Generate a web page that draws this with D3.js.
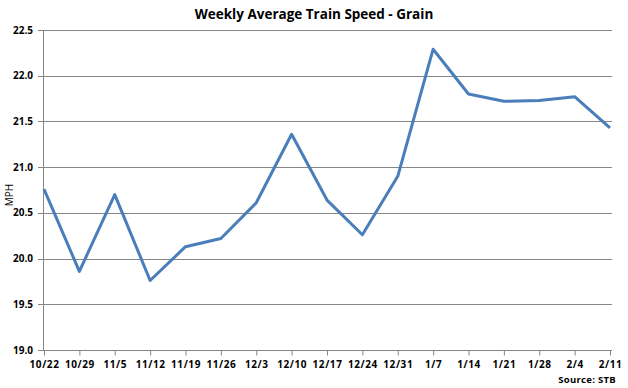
<!DOCTYPE html>
<html>
<head>
<meta charset="utf-8">
<script src="https://cdn.jsdelivr.net/npm/d3@7"></script>
<style>
  body { margin: 0; background: #fff; }
  svg { display: block; font-family: "Open Sans", "Liberation Sans", sans-serif; }
</style>
</head>
<body>
<div id="chart"></div>
<script>
// weekly dates on the x axis
var weeks = ["10/22","10/29","11/5","11/12","11/19","11/26","12/3","12/10","12/17","12/24","12/31","1/7","1/14","1/21","1/28","2/4","2/11"];
// average speed, miles per hour
var speeds = [20.76, 19.86, 20.70, 19.76, 20.13, 20.22, 20.61, 21.36, 20.64, 20.26, 20.90, 22.29, 21.80, 21.72, 21.73, 21.77, 21.43];
var yTicks = [19.0, 19.5, 20.0, 20.5, 21.0, 21.5, 22.0, 22.5];

var width = 628, height = 388;
var plotLeft = 43, plotRight = 611, plotTop = 30, plotBottom = 350;

var svg = d3.select("#chart").append("svg")
  .attr("width", width)
  .attr("height", height);

var x = d3.scalePoint().domain(weeks).range([plotLeft + 1, plotRight - 1]);
var y = d3.scaleLinear().domain([19, 22.5]).range([plotBottom, plotTop]);

// gridlines
svg.append("g")
  .selectAll("line")
  .data(yTicks)
  .enter().append("line")
    .attr("x1", plotLeft - 5)
    .attr("x2", plotRight + 1)
    .attr("y1", function(d) { return Math.round(y(d)) + 0.5; })
    .attr("y2", function(d) { return Math.round(y(d)) + 0.5; })
    .style("stroke", "#868686")
    .style("stroke-width", 1);

// y labels
svg.append("g")
  .selectAll("text")
  .data(yTicks)
  .enter().append("text")
    .attr("x", 33)
    .attr("y", function(d) { return y(d) + 3.5; })
    .attr("text-anchor", "end")
    .style("font-size", "10px")
    .style("font-weight", "bold")
    .text(function(d) { return d.toFixed(1); });

// y axis line
svg.append("line")
  .attr("x1", plotLeft + 0.5).attr("x2", plotLeft + 0.5)
  .attr("y1", plotTop).attr("y2", plotBottom)
  .style("stroke", "#868686");

// x axis ticks
var xAxis = d3.axisBottom(x).tickSize(5).tickPadding(5);
var gx = svg.append("g")
  .attr("transform", "translate(0," + (Math.round(plotBottom) + 0.5) + ")")
  .call(xAxis);
gx.select(".domain").remove();
gx.selectAll("line").style("stroke", "#868686");
gx.selectAll("text")
  .style("font-size", "10px")
  .style("font-weight", "bold")
  .style("letter-spacing", "0.6px")
  .style("fill", "#000")
  .style("font-family", "'Open Sans', sans-serif");

// the line
var line = d3.line()
  .x(function(d, i) { return x(weeks[i]); })
  .y(function(d) { return y(d); });

svg.append("path")
  .datum(speeds)
  .attr("d", line)
  .style("fill", "none")
  .style("stroke", "#4a7ebb")
  .style("stroke-width", 3)
  .style("stroke-linejoin", "round");

// title
svg.append("text")
  .attr("x", 314)
  .attr("y", 19)
  .attr("text-anchor", "middle")
  .style("font-size", "13.5px")
  .style("font-weight", "bold")
  .text("Weekly Average Train Speed - Grain");

// axis title
svg.append("text")
  .attr("transform", "translate(13," + ((plotTop + plotBottom) / 2 + 5) + ") rotate(-90)")
  .attr("text-anchor", "middle")
  .style("font-size", "10px")
  .text("MPH");

// source
svg.append("text")
  .attr("x", 616)
  .attr("y", 383)
  .attr("text-anchor", "end")
  .style("font-size", "9.5px")
  .style("font-weight", "bold")
  .style("letter-spacing", "0.3px")
  .text("Source:  STB");
</script>
</body>
</html>
